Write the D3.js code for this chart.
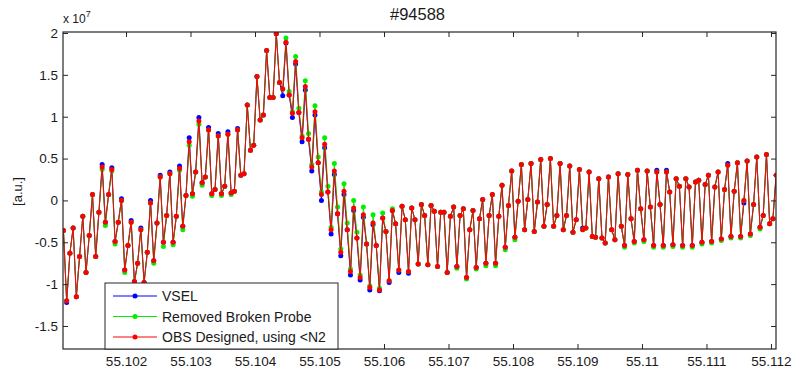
<!DOCTYPE html>
<html>
<head>
<meta charset="utf-8">
<script src="https://d3js.org/d3.v7.min.js"></script>
<style>
body { margin: 0; background: #fff; }
text { font-family: "Liberation Sans", Arial, sans-serif; fill: #1a1a1a; }
</style>
</head>
<body>
<div class="chart"></div>
<script>
// time axis: samples every 5e-5 s starting at 55.10103
var t0 = 55.10103;
var dt = 5e-5;

// signal values, units of 1e7 [a.u.]
var vsel = [
 -0.36,-1.22,-0.63,-0.33,-1.15,-0.67,-0.19,-0.86,-0.42,0.07,
 -0.67,-0.14,0.43,-0.26,0.07,0.39,-0.49,-0.26,0.02,-0.83,
 -0.54,-0.24,-0.97,-0.75,-0.33,-0.98,-0.62,0.00,-0.72,-0.27,
 0.30,-0.50,-0.18,0.34,-0.50,-0.19,0.41,-0.31,0.06,0.75,
 0.08,0.34,0.99,0.21,0.28,0.87,0.08,0.13,0.80,0.08,
 0.17,0.82,0.09,0.11,0.86,0.30,0.32,1.14,0.60,0.66,
 1.48,0.96,1.02,1.79,1.23,1.23,1.99,1.41,1.25,1.88,
 1.26,0.99,1.63,1.05,0.70,1.32,0.73,0.35,1.02,0.45,
 0.00,0.63,0.10,-0.40,0.31,-0.16,-0.66,0.07,-0.35,-0.89,
 -0.12,-0.45,-0.95,-0.20,-0.52,-1.07,-0.29,-0.54,-1.08,-0.21,
 -0.37,-0.98,-0.12,-0.28,-0.86,-0.07,-0.23,-0.87,-0.09,-0.23,
 -0.76,-0.05,-0.18,-0.77,-0.06,-0.13,-0.79,-0.14,-0.14,-0.86,
 -0.19,-0.08,-0.79,-0.18,-0.10,-0.92,-0.35,-0.12,-0.80,-0.22,
 0.01,-0.75,-0.18,0.07,-0.75,-0.19,0.18,-0.56,-0.06,0.35,
 -0.44,-0.01,0.43,-0.35,0.01,0.44,-0.37,-0.02,0.49,-0.31,
 -0.05,0.50,-0.31,-0.18,0.44,-0.35,-0.18,0.41,-0.38,-0.23,
 0.37,-0.33,-0.33,0.34,-0.43,-0.44,0.26,-0.45,-0.51,0.28,
 -0.35,-0.47,0.32,-0.31,-0.54,0.31,-0.22,-0.49,0.36,-0.10,
 -0.47,0.35,-0.08,-0.54,0.36,-0.05,-0.54,0.36,0.10,-0.53,
 0.26,0.17,-0.54,0.26,0.16,-0.54,0.22,0.24,-0.50,0.19,
 0.30,-0.49,0.16,0.34,-0.46,0.13,0.44,-0.43,0.11,0.45,
 -0.43,-0.03,0.47,-0.40,-0.05,0.52,-0.32,-0.18,0.55,-0.28,
 -0.22,0.30
];
var removedProbe = [
 -0.36,-1.20,-0.63,-0.33,-1.15,-0.67,-0.19,-0.86,-0.42,0.07,
 -0.67,-0.14,0.37,-0.30,0.07,0.35,-0.52,-0.26,0.00,-0.86,
 -0.54,-0.26,-1.00,-0.75,-0.35,-1.00,-0.62,-0.03,-0.75,-0.27,
 0.28,-0.55,-0.18,0.32,-0.53,-0.19,0.36,-0.35,0.06,0.66,
 0.05,0.34,0.91,0.18,0.28,0.84,0.06,0.13,0.77,0.06,
 0.17,0.79,0.07,0.11,0.84,0.30,0.32,1.14,0.60,0.66,
 1.48,0.96,1.02,1.79,1.23,1.23,2.00,1.41,1.33,1.94,
 1.30,1.06,1.72,1.10,0.77,1.43,0.80,0.43,1.13,0.52,
 0.10,0.75,0.17,-0.32,0.44,-0.08,-0.58,0.20,-0.27,-0.82,
 0.00,-0.38,-0.89,-0.08,-0.52,-1.02,-0.17,-0.54,-1.05,-0.15,
 -0.37,-0.96,-0.10,-0.28,-0.83,-0.07,-0.23,-0.85,-0.09,-0.23,
 -0.76,-0.05,-0.18,-0.77,-0.06,-0.13,-0.79,-0.14,-0.14,-0.86,
 -0.19,-0.08,-0.81,-0.18,-0.10,-0.94,-0.35,-0.12,-0.82,-0.22,
 0.01,-0.78,-0.18,0.07,-0.78,-0.19,0.18,-0.59,-0.06,0.35,
 -0.47,-0.01,0.43,-0.35,0.01,0.44,-0.37,-0.02,0.49,-0.31,
 -0.05,0.50,-0.31,-0.18,0.44,-0.35,-0.18,0.41,-0.38,-0.23,
 0.37,-0.35,-0.33,0.34,-0.43,-0.44,0.26,-0.45,-0.51,0.28,
 -0.35,-0.47,0.32,-0.31,-0.56,0.31,-0.22,-0.51,0.36,-0.10,
 -0.49,0.35,-0.08,-0.56,0.34,-0.05,-0.56,0.34,0.10,-0.55,
 0.26,0.17,-0.56,0.26,0.16,-0.56,0.22,0.24,-0.52,0.19,
 0.30,-0.51,0.16,0.34,-0.48,0.13,0.42,-0.45,0.11,0.45,
 -0.45,0.00,0.47,-0.42,-0.05,0.52,-0.34,-0.18,0.55,-0.28,
 -0.22,0.30
];
var obsDesigned = [
 -0.36,-1.20,-0.63,-0.33,-1.15,-0.67,-0.19,-0.86,-0.42,0.07,
 -0.67,-0.14,0.40,-0.26,0.07,0.37,-0.49,-0.26,0.00,-0.83,
 -0.54,-0.26,-0.97,-0.75,-0.35,-0.98,-0.62,-0.03,-0.72,-0.27,
 0.28,-0.50,-0.18,0.32,-0.50,-0.19,0.38,-0.31,0.06,0.70,
 0.08,0.34,0.95,0.21,0.28,0.84,0.08,0.13,0.77,0.08,
 0.17,0.79,0.09,0.11,0.84,0.30,0.32,1.14,0.60,0.66,
 1.48,0.96,1.02,1.79,1.23,1.23,1.99,1.41,1.33,1.89,
 1.26,1.04,1.66,1.05,0.75,1.36,0.73,0.40,1.06,0.45,
 0.07,0.67,0.10,-0.35,0.35,-0.16,-0.62,0.11,-0.35,-0.85,
 -0.09,-0.45,-0.92,-0.17,-0.52,-1.04,-0.27,-0.54,-1.07,-0.21,
 -0.37,-0.96,-0.12,-0.28,-0.83,-0.07,-0.23,-0.85,-0.09,-0.23,
 -0.76,-0.05,-0.18,-0.77,-0.06,-0.13,-0.79,-0.14,-0.14,-0.86,
 -0.19,-0.08,-0.79,-0.18,-0.10,-0.92,-0.35,-0.12,-0.80,-0.22,
 0.01,-0.75,-0.18,0.07,-0.75,-0.19,0.18,-0.56,-0.06,0.35,
 -0.44,-0.01,0.43,-0.35,0.01,0.44,-0.37,-0.02,0.49,-0.31,
 -0.05,0.50,-0.31,-0.18,0.44,-0.35,-0.18,0.41,-0.38,-0.23,
 0.37,-0.35,-0.33,0.34,-0.43,-0.44,0.26,-0.45,-0.51,0.28,
 -0.35,-0.47,0.32,-0.31,-0.54,0.31,-0.22,-0.49,0.36,-0.10,
 -0.47,0.35,-0.08,-0.54,0.34,-0.05,-0.54,0.34,0.10,-0.53,
 0.26,0.17,-0.54,0.26,0.16,-0.54,0.22,0.24,-0.50,0.19,
 0.30,-0.49,0.16,0.34,-0.46,0.13,0.42,-0.43,0.11,0.45,
 -0.43,0.00,0.47,-0.40,-0.05,0.52,-0.32,-0.18,0.55,-0.28,
 -0.22,0.30
];

var seriesNames = ["VSEL", "Removed Broken Probe", "OBS Designed, using <N2"];
var seriesColors = ["#0000ff", "#00ee00", "#ff0000"];
var xTicks = [55.102, 55.103, 55.104, 55.105, 55.106, 55.107, 55.108, 55.109, 55.11, 55.111, 55.112];
var yTicks = [-1.5, -1, -0.5, 0, 0.5, 1, 1.5, 2];

var w = 792, h = 372;
var pLeft = 63, pRight = 776, pTop = 32, pBottom = 349;

var xScale = d3.scaleLinear().domain([55.101023, 55.112078]).range([pLeft, pRight]);
var yScale = d3.scaleLinear().domain([-1.775, 2.012]).range([pBottom, pTop]);

var svg = d3.select("div.chart").append("svg")
  .attr("width", w).attr("height", h);

svg.append("rect").attr("width", w).attr("height", h).attr("fill", "#fff");

svg.append("clipPath").attr("id", "plotclip")
  .append("rect").attr("x", pLeft).attr("y", pTop)
  .attr("width", pRight - pLeft).attr("height", pBottom - pTop);

var allSeries = [vsel, removedProbe, obsDesigned];
var line = d3.line()
  .x(function(d, i) { return xScale(t0 + i * dt); })
  .y(function(d) { return yScale(d); });

var plot = svg.append("g").attr("clip-path", "url(#plotclip)");
allSeries.forEach(function(data, k) {
  plot.append("path")
    .attr("d", line(data))
    .attr("fill", "none")
    .attr("stroke", seriesColors[k])
    .attr("stroke-width", 1);
  plot.selectAll(null).data(data).enter().append("circle")
    .attr("cx", function(d, i) { return xScale(t0 + i * dt); })
    .attr("cy", function(d) { return yScale(d); })
    .attr("r", 2.5)
    .attr("fill", seriesColors[k]);
});

// axes, ticks pointing inward like matlab
var fmt = function(d) { return String(d); };
svg.append("g").attr("class", "axis").attr("transform", "translate(0," + pBottom + ")")
  .call(d3.axisBottom(xScale).tickValues(xTicks).tickFormat(fmt).tickSizeInner(-5).tickSizeOuter(0).tickPadding(7));
svg.append("g").attr("class", "axis").attr("transform", "translate(0," + pTop + ")")
  .call(d3.axisTop(xScale).tickValues(xTicks).tickFormat("").tickSizeInner(-5).tickSizeOuter(0));
svg.append("g").attr("class", "axis").attr("transform", "translate(" + pLeft + ",0)")
  .call(d3.axisLeft(yScale).tickValues(yTicks).tickFormat(fmt).tickSizeInner(-5).tickSizeOuter(0).tickPadding(5));
svg.append("g").attr("class", "axis").attr("transform", "translate(" + pRight + ",0)")
  .call(d3.axisRight(yScale).tickValues(yTicks).tickFormat("").tickSizeInner(-5).tickSizeOuter(0));

svg.selectAll(".axis .domain").remove();
svg.selectAll(".axis line").attr("stroke", "#262626");
svg.selectAll(".axis text").attr("font-size", 13.5).attr("fill", "#1a1a1a")
  .style("font-family", "'Liberation Sans', Arial, sans-serif");

svg.append("rect")
  .attr("x", pLeft).attr("y", pTop)
  .attr("width", pRight - pLeft).attr("height", pBottom - pTop)
  .attr("fill", "none").attr("stroke", "#262626").attr("stroke-width", 1.2);

// title and labels
svg.append("text").attr("x", (pLeft + pRight) / 2 - 2).attr("y", 20)
  .attr("text-anchor", "middle").attr("font-size", 16.5).text("#94588");

var mult = svg.append("text").attr("x", 63).attr("y", 23).attr("font-size", 12);
mult.append("tspan").text("x 10");
mult.append("tspan").attr("dy", -6).attr("font-size", 9).text("7");

svg.append("text")
  .attr("transform", "translate(22," + ((pTop + pBottom) / 2 + 1) + ") rotate(-90)")
  .attr("text-anchor", "middle").attr("font-size", 13).text("[a.u.]");

// legend
var lg = svg.append("g");
lg.append("rect").attr("x", 105).attr("y", 283).attr("width", 233).attr("height", 66)
  .attr("fill", "#fff").attr("stroke", "#262626").attr("stroke-width", 1);
seriesNames.forEach(function(name, k) {
  var ly = 296 + k * 20.5;
  lg.append("line").attr("x1", 113).attr("x2", 157).attr("y1", ly).attr("y2", ly)
    .attr("stroke", seriesColors[k]).attr("stroke-width", 1);
  lg.append("circle").attr("cx", 135).attr("cy", ly).attr("r", 2.5).attr("fill", seriesColors[k]);
  lg.append("text").attr("x", 162).attr("y", ly + 5).attr("font-size", 14).text(name);
});
</script>
</body>
</html>
